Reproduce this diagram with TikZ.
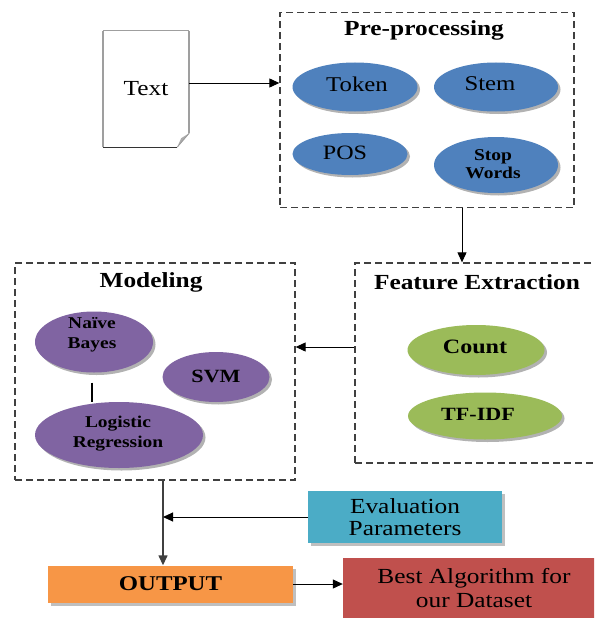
\documentclass[tikz,border=0pt]{standalone}
\usepackage{fontspec}
\setmainfont[FakeStretch=1.18]{Liberation Serif}
\usetikzlibrary{arrows.meta,shadows,calc,shapes.geometric}
\definecolor{cblue}{HTML}{4F81BD}
\definecolor{cpurple}{HTML}{8064A2}
\definecolor{cgreen}{HTML}{9BBB59}
\definecolor{caqua}{HTML}{4BACC6}
\definecolor{corange}{HTML}{F79646}
\definecolor{cred}{HTML}{C0504D}
\begin{document}
\begin{tikzpicture}[x=1pt,y=-1pt,
  dbox/.style={draw=black!75, line width=1.3pt, dash pattern=on 7pt off 4pt, inner sep=0pt},
  ell/.style={ellipse, inner sep=0pt, draw=none,
    drop shadow={shadow xshift=2.5pt, shadow yshift=-2.5pt, fill=black, opacity=0.3}},
  fbox/.style={rectangle, inner sep=0pt, draw=none, align=center},
  shbox/.style={fbox, drop shadow={shadow xshift=3pt, shadow yshift=-3pt, fill=black, opacity=0.25}},
  lbl/.style={inner sep=0pt, align=center, text=black},
  ttl/.style={lbl, font=\fontsize{21.5}{24}\selectfont\bfseries},
  arr/.style={-{Triangle[length=10pt,width=9pt]}, line width=1pt, black},
]
\useasboundingbox (0,0) rectangle (594,618);
\clip (0,0) rectangle (594,618);
\fill[white] (0,0) rectangle (594,618);

% ---------- document "Text"
\node[fbox, minimum width=86pt, minimum height=116pt, font=\fontsize{21.5}{24}\selectfont] (doc) at (146,89) {Text};
\coordinate (dfold) at ($(doc.south east)+(0,-14)$);
\coordinate (dbot) at ($(doc.south east)+(-12,0)$);
\draw[gray!75, line width=1pt] (doc.north west) -- (doc.north east);
\draw[black!80, line width=1pt] (doc.south west) -- (dbot);
\draw[gray!75, line width=2.2pt] (doc.north west) -- (doc.south west);
\draw[gray!75, line width=2.2pt] (doc.north east) -- (dfold);
\fill[gray!65] (dfold) -- (dbot) -- ($(dfold)+(-8,5)$) -- cycle;
\draw[gray!80, line width=0.8pt] (dfold) -- (dbot);

% ---------- Pre-processing
\node[dbox, minimum width=294pt, minimum height=195pt] (pre) at (427,110) {};
\node[ttl] (pret) at (424,30) {Pre-processing};
\node[ell, fill=cblue, minimum width=125pt, minimum height=49pt] (tok) at (355,87) {};
\node[lbl, font=\fontsize{21}{23}\selectfont] (tokt) at (357,84) {Token};
\node[ell, fill=cblue, minimum width=124pt, minimum height=49pt] (stem) at (496,87) {};
\node[lbl, font=\fontsize{21}{23}\selectfont] (stemt) at (490,84) {Stem};
\node[ell, fill=cblue, minimum width=115pt, minimum height=42pt] (pos) at (350,154) {};
\node[lbl, font=\fontsize{20.4}{23}\selectfont] (post) at (345,153) {POS};
\node[ell, fill=cblue, minimum width=124pt, minimum height=56pt] (stop) at (496,165) {};
\node[lbl, font=\fontsize{16.5}{18.5}\selectfont\bfseries] (stopt) at (493,164) {Stop\\Words};

% ---------- Feature Extraction
\node[dbox, minimum width=260pt, minimum height=200pt] (fe) at (485,363) {};
\node[ttl] (fet) at (477,282) {Feature Extraction};
\node[ell, fill=cgreen, minimum width=137pt, minimum height=50pt] (cnt) at (476,350) {};
\node[lbl, font=\fontsize{20.4}{23}\selectfont\bfseries] (cntt) at (475,347) {Count};
\node[ell, fill=cgreen, minimum width=154pt, minimum height=47pt] (tfidf) at (485,416) {};
\node[lbl, font=\fontsize{18.7}{21}\selectfont\bfseries] (tfidft) at (478,414) {TF-IDF};

% ---------- Modeling
\node[dbox, minimum width=280pt, minimum height=217pt] (mod) at (155,371.5) {};
\node[ttl] (modt) at (151,282) {Modeling};
\node[ell, fill=cpurple, minimum width=118pt, minimum height=61pt] (nb) at (94,342) {};
\node[lbl, font=\fontsize{16.5}{20}\selectfont\bfseries] (nbt) at (92,335) {Naïve\\Bayes};
\node[ell, fill=cpurple, minimum width=107pt, minimum height=50pt] (svm) at (216,377) {};
\node[lbl, font=\fontsize{18.7}{21}\selectfont\bfseries] (svmt) at (216,376) {SVM};
\node[ell, fill=cpurple, minimum width=168pt, minimum height=66pt] (lr) at (119,435) {};
\node[lbl, font=\fontsize{16.5}{20}\selectfont\bfseries] (lrt) at (118,434) {Logistic\\Regression};
\draw[line width=2pt, black] ([xshift=-2pt,yshift=-10pt]nb.south) -- ([xshift=-2pt]nb.south |- lr.north);

% ---------- bottom boxes
\node[shbox, fill=caqua, minimum width=194pt, minimum height=52pt,
  font=\fontsize{21.5}{21.5}\selectfont] (eval) at (405,517) {Evaluation\\Parameters};
\node[shbox, fill=corange, minimum width=245pt, minimum height=37pt,
  font=\fontsize{21}{23}\selectfont\bfseries] (out) at (170.5,584) {OUTPUT};
\node[fbox, fill=cred, minimum width=262pt, minimum height=60pt,
  font=\fontsize{21.5}{24.5}\selectfont] (best) at (474,588) {Best Algorithm for\\our Dataset};

% ---------- connectors
\draw[arr] ([yshift=6pt]doc.east) -- ([yshift=6pt]doc.east -| pre.west);
\draw[arr] (pre.south -| 462,0) -- (fe.north -| 462,0);
\draw[arr] (fe.west |- 0,347) -- (mod.east |- 0,347);
\coordinate (mb) at (163,480);
\draw[arr, line width=1.4pt, black!75] (mb) -- (mb |- out.north);
\draw[arr] (eval.west) -- (eval.west -| mb);
\draw[arr] (out.east) -- (out.east -| best.west);
\end{tikzpicture}
\end{document}
